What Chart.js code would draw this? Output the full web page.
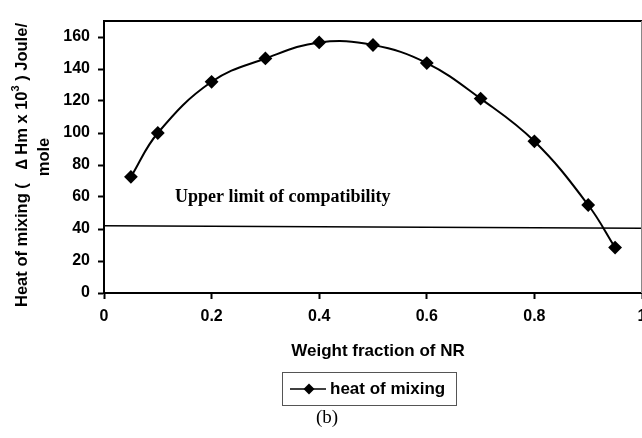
<!DOCTYPE html>
<html>
<head>
<meta charset="utf-8">
<script src="https://cdn.jsdelivr.net/npm/chart.js@4/dist/chart.umd.min.js"></script>
<style>
  html, body { margin: 0; padding: 0; background: #fff; }
  #wrap { width: 642px; height: 438px; }
</style>
</head>
<body>
<div id="wrap"><canvas id="heatChart" width="642" height="438"></canvas></div>
<script>
// weight fraction of NR and the heat of mixing at each blend ratio
const weightFraction = [0.05, 0.1, 0.2, 0.3, 0.4, 0.5, 0.6, 0.7, 0.8, 0.9, 0.95];
const heatOfMixing = [72.6, 100, 132, 146.6, 156.6, 155, 143.7, 121.5, 94.8, 55, 28.4];

// upper limit of compatibility, drawn across the whole x range
const limitX = [0, 1];
const limitY = [42, 40.5];

const xTicks = [0, 0.2, 0.4, 0.6, 0.8, 1];
const yTicks = [0, 20, 40, 60, 80, 100, 120, 140, 160];

const SANS = '"Liberation Sans", Arial, sans-serif';
const SERIF = '"Liberation Serif", "Times New Roman", serif';

const toPoints = (xs, ys) => xs.map((x, i) => ({ x: x, y: ys[i] }));

// extra text, frame and legend box drawn on top of the chart
const decorations = {
  id: 'decorations',
  afterDraw(chart) {
    const ctx = chart.ctx;
    const area = chart.chartArea;
    ctx.save();

    // top and right edges of the plot frame
    ctx.strokeStyle = '#000';
    ctx.lineWidth = 2;
    ctx.beginPath();
    ctx.moveTo(area.left, area.top);
    ctx.lineTo(area.right, area.top);
    ctx.stroke();
    ctx.strokeStyle = '#888';
    ctx.lineWidth = 1;
    ctx.beginPath();
    ctx.moveTo(area.right - 0.5, area.top);
    ctx.lineTo(area.right - 0.5, area.bottom);
    ctx.stroke();

    ctx.fillStyle = '#000';

    // annotation above the limit line
    ctx.font = 'bold 18px ' + SERIF;
    ctx.textAlign = 'left';
    ctx.textBaseline = 'middle';
    ctx.fillText('Upper limit of compatibility', 175, 197);

    // x axis title
    ctx.font = 'bold 17px ' + SANS;
    ctx.textAlign = 'center';
    ctx.fillText('Weight fraction of NR', 378, 351);

    // y axis title, two rotated lines with a superscript
    ctx.save();
    ctx.translate(22, 165);
    ctx.rotate(-Math.PI / 2);
    const a = 'Heat of mixing (   \u2206 Hm x 10';
    const sup = '3';
    const b = ' ) Joule/';
    ctx.font = 'bold 16.5px ' + SANS;
    const wa = ctx.measureText(a).width;
    const wb = ctx.measureText(b).width;
    ctx.font = 'bold 11px ' + SANS;
    const ws = ctx.measureText(sup).width;
    let x0 = -(wa + ws + wb) / 2;
    ctx.textAlign = 'left';
    ctx.font = 'bold 16.5px ' + SANS;
    ctx.fillText(a, x0, 0);
    ctx.font = 'bold 11px ' + SANS;
    ctx.fillText(sup, x0 + wa, -6);
    ctx.font = 'bold 16.5px ' + SANS;
    ctx.fillText(b, x0 + wa + ws, 0);
    ctx.textAlign = 'center';
    ctx.fillText('mole', 8, 22);
    ctx.restore();

    // legend box for the heat of mixing series
    const ds = chart.data.datasets[0];
    ctx.strokeStyle = '#555';
    ctx.lineWidth = 1;
    ctx.strokeRect(282.5, 372.5, 174, 33);
    ctx.strokeStyle = ds.borderColor;
    ctx.lineWidth = 1.5;
    ctx.beginPath();
    ctx.moveTo(290, 389);
    ctx.lineTo(326, 389);
    ctx.stroke();
    ctx.beginPath();
    ctx.moveTo(309, 383.5);
    ctx.lineTo(314.5, 389);
    ctx.lineTo(309, 394.5);
    ctx.lineTo(303.5, 389);
    ctx.closePath();
    ctx.fillStyle = ds.pointBackgroundColor;
    ctx.fill();
    ctx.fillStyle = '#000';
    ctx.font = 'bold 17px ' + SANS;
    ctx.textAlign = 'left';
    ctx.fillText(ds.label, 330, 389);

    // panel label
    ctx.font = '19px ' + SERIF;
    ctx.textAlign = 'center';
    ctx.fillText('(b)', 327, 418);

    ctx.restore();
  }
};

new Chart(document.getElementById('heatChart'), {
  type: 'line',
  data: {
    datasets: [
      {
        label: 'heat of mixing',
        data: toPoints(weightFraction, heatOfMixing),
        borderColor: '#000',
        borderWidth: 2,
        tension: 0.4,
        pointStyle: 'rectRot',
        pointRadius: 5.5,
        pointBackgroundColor: '#000',
        pointBorderColor: '#000',
        fill: false
      },
      {
        label: 'limit',
        data: toPoints(limitX, limitY),
        borderColor: '#000',
        borderWidth: 1.5,
        pointRadius: 0,
        tension: 0,
        fill: false
      }
    ]
  },
  options: {
    responsive: false,
    animation: false,
    layout: { autoPadding: false, padding: { left: 0, top: 21, right: 0, bottom: 0 } },
    plugins: {
      legend: { display: false },
      tooltip: { enabled: false }
    },
    scales: {
      x: {
        type: 'linear',
        min: 0,
        max: 1,
        // let the last tick label run past the plot edge
        afterFit: s => { s.height = 145; s.paddingLeft = 0; s.paddingRight = 0; },
        afterBuildTicks: s => { s.ticks = xTicks.map(v => ({ value: v })); },
        border: { display: true, color: '#000', width: 2 },
        grid: { drawOnChartArea: false, tickLength: 6, color: '#000', tickColor: '#000', tickWidth: 2 },
        ticks: {
          color: '#000',
          padding: 8,
          maxRotation: 0,
          font: { family: SANS, size: 16, weight: 'bold' },
          callback: v => String(+v.toFixed(1))
        }
      },
      y: {
        min: 0,
        max: 170,
        afterFit: s => { s.width = 104; },
        afterBuildTicks: s => { s.ticks = yTicks.map(v => ({ value: v })); },
        border: { display: true, color: '#000', width: 2 },
        grid: { drawOnChartArea: false, tickLength: 6, color: '#000', tickColor: '#000', tickWidth: 2 },
        ticks: {
          color: '#000',
          padding: 8,
          font: { family: SANS, size: 16, weight: 'bold' }
        }
      }
    }
  },
  plugins: [decorations]
});
</script>
</body>
</html>
